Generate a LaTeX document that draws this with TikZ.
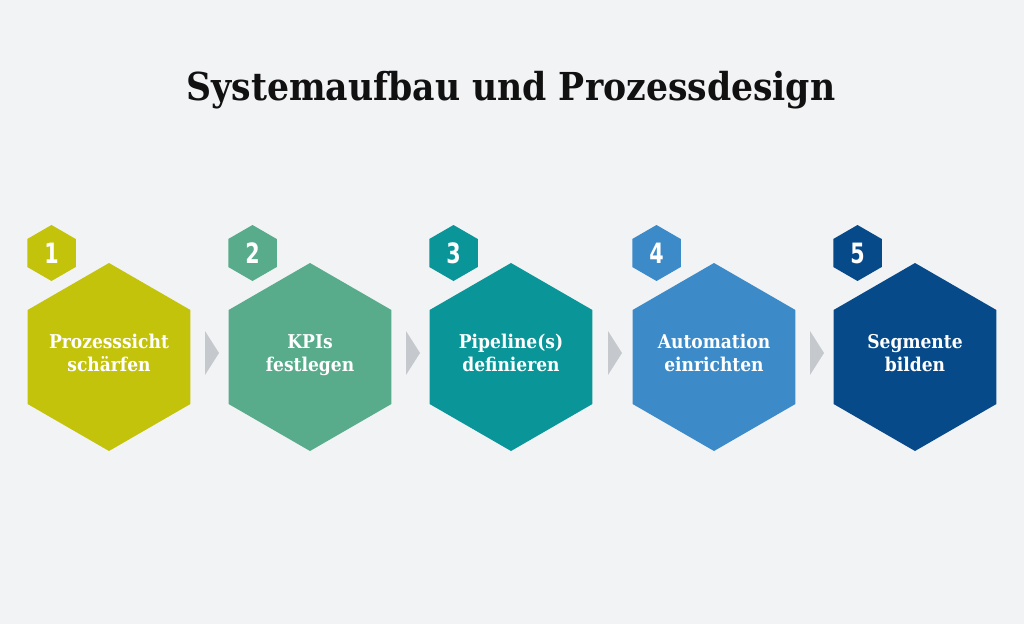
\documentclass[tikz,border=0pt]{standalone}
\usepackage{fontspec}
\setmainfont{DejaVu Serif Condensed}[BoldFont={DejaVu Serif Condensed Bold}]
\newfontfamily\numfont{DejaVu Sans Condensed Bold}[FakeStretch=0.82]
\usetikzlibrary{shapes.geometric,calc}
\definecolor{bgc}{RGB}{242,243,245}
\definecolor{titlec}{RGB}{17,17,17}
\definecolor{arrowc}{RGB}{197,200,205}
\definecolor{ca}{RGB}{196,195,12}
\definecolor{cb}{RGB}{88,172,140}
\definecolor{cc}{RGB}{10,150,152}
\definecolor{cd}{RGB}{60,139,200}
\definecolor{ce}{RGB}{7,74,138}
\tikzset{
  bighex/.style={regular polygon, regular polygon sides=6, shape border rotate=30,
    minimum size=188pt, inner sep=0pt, draw=none},
  smallhex/.style={regular polygon, regular polygon sides=6, shape border rotate=30,
    minimum size=56pt, inner sep=0pt, draw=none, text=white,
    font=\numfont\fontsize{28}{28}\selectfont},
  hextext/.style={text=white, align=center, inner sep=0pt,
    font=\bfseries\fontsize{19}{23}\selectfont}
}
\begin{document}
\begin{tikzpicture}[x=1pt,y=-1pt]
\fill[bgc] (0,0) rectangle (1024,624);
\useasboundingbox (0,0) rectangle (1024,624);
\node[anchor=base, text=titlec, inner sep=0pt, font=\bfseries\fontsize{38.5}{42}\selectfont] (title) at (511,100) {Systemaufbau und Prozessdesign};
% big hexes
\node[bighex, fill=ca] (h1) at (109,357) {};
\node[bighex, fill=cb] (h2) at (310,357) {};
\node[bighex, fill=cc] (h3) at (511,357) {};
\node[bighex, fill=cd] (h4) at (714,357) {};
\node[bighex, fill=ce] (h5) at (915,357) {};
% texts
\node[hextext] (t1) at ($(h1)+(0,-2)$) {\strut Prozesssicht\\schärfen\strut};
\node[hextext] (t2) at ($(h2)+(0,-2)$) {\strut KPIs\\festlegen\strut};
\node[hextext] (t3) at ($(h3)+(0,-2)$) {\strut Pipeline(s)\\definieren\strut};
\node[hextext] (t4) at ($(h4)+(0,-2)$) {\strut Automation\\einrichten\strut};
\node[hextext] (t5) at ($(h5)+(0,-2)$) {\strut Segmente\\bilden\strut};
% small number hexes
\node[smallhex, fill=ca] (n1) at ($(h1)+(-57.5,-104)$) {1};
\node[smallhex, fill=cb] (n2) at ($(h2)+(-57.5,-104)$) {2};
\node[smallhex, fill=cc] (n3) at ($(h3)+(-57.5,-104)$) {3};
\node[smallhex, fill=cd] (n4) at ($(h4)+(-57.5,-104)$) {4};
\node[smallhex, fill=ce] (n5) at ($(h5)+(-57.5,-104)$) {5};
% arrows
\foreach \i/\j in {1/2,2/3,3/4,4/5}{
  \coordinate (a\i) at ($($(h\i.east)!0.5!(h\j.west)$)+(2.5,-4)$);
  \fill[arrowc] ($(a\i)+(-7,-22)$) -- ($(a\i)+(7,0)$) -- ($(a\i)+(-7,22)$) -- cycle;
}
\end{tikzpicture}
\end{document}
